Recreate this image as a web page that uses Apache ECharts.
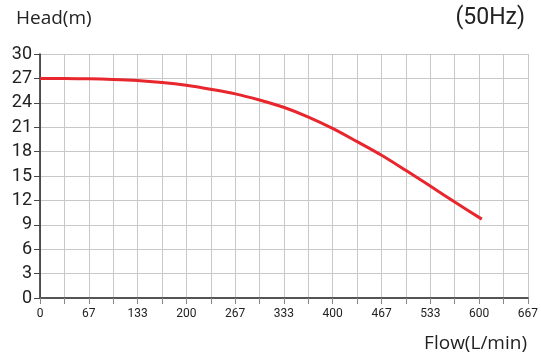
<!DOCTYPE html>
<html>
<head>
<meta charset="utf-8">
<script src="https://cdn.jsdelivr.net/npm/echarts@6/dist/echarts.min.js"></script>
<style>
  html, body { margin: 0; padding: 0; background: #fff; }
  #chart { width: 541px; height: 361px; }
</style>
</head>
<body>
<div id="chart"></div>
<script>
  // pump curve
  var flowValues = [0, 33, 67, 100, 133, 167, 200, 233, 267, 300, 333, 367, 400, 433, 467, 500, 533, 567, 604]
  var headValues = [27, 27, 26.95, 26.88, 26.75, 26.5, 26.15, 25.67, 25.1, 24.35, 23.45, 22.25, 20.85, 19.25, 17.55, 15.7, 13.8, 11.8, 9.7]
  var xTickLabels = ['0', '67', '133', '200', '267', '333', '400', '467', '533', '600', '667']
  var yTickLabels = ['0', '3', '6', '9', '12', '15', '18', '21', '24', '27', '30']

  var curve = []
  for (var i = 0; i < flowValues.length; i++) {
    curve.push([flowValues[i], headValues[i]])
  }

  var labelFont = 'Roboto, sans-serif'
  var titleFont = '"Open Sans", sans-serif'
  var chart = echarts.init(document.getElementById('chart'))
  var option = {
    animation: false,
    title: [
      {
        text: 'Head(m)',
        left: 11, top: 4,
        textStyle: { fontFamily: titleFont, fontSize: 19, fontWeight: 'normal', color: '#222' }
      },
      {
        text: '(50Hz)',
        right: 11, top: 2,
        textStyle: { fontFamily: labelFont, fontSize: 23, fontWeight: 'normal', color: '#222' }
      },
      {
        text: 'Flow(L/min)',
        right: 9, top: 329,
        textStyle: { fontFamily: titleFont, fontSize: 19, fontWeight: 'normal', color: '#222' }
      }
    ],
    grid: { left: 40, right: 12, top: 54, bottom: 63 },
    xAxis: {
      type: 'value',
      min: 0, max: 667, interval: 66.7,
      axisLine: { onZero: false, lineStyle: { color: '#555', width: 2 } },
      axisTick: { length: 6, lineStyle: { color: '#888' } },
      minorTick: { show: true, splitNumber: 2, length: 6, lineStyle: { color: '#888' } },
      splitLine: { lineStyle: { color: '#c8c8c8', width: 1 } },
      minorSplitLine: { show: true, lineStyle: { color: '#c8c8c8', width: 1 } },
      axisLabel: {
        margin: 10,
        fontFamily: labelFont, fontSize: 12, color: '#222',
        formatter: function (v, idx) { return xTickLabels[idx] }
      }
    },
    yAxis: {
      type: 'value',
      min: 0, max: 30, interval: 3,
      axisLine: { show: true, lineStyle: { color: '#222', width: 1.5 } },
      axisTick: { show: true, length: 6, lineStyle: { color: '#444' } },
      splitLine: { lineStyle: { color: '#c8c8c8', width: 1 } },
      axisLabel: {
        margin: 8,
        fontFamily: labelFont, fontSize: 18, color: '#222',
        formatter: function (v, idx) { return yTickLabels[idx] }
      }
    },
    series: [
      {
        type: 'line',
        data: curve,
        smooth: 0.3,
        showSymbol: false,
        lineStyle: { color: '#e8262d', width: 3 }
      }
    ]
  }
  chart.setOption(option)
</script>
</body>
</html>
